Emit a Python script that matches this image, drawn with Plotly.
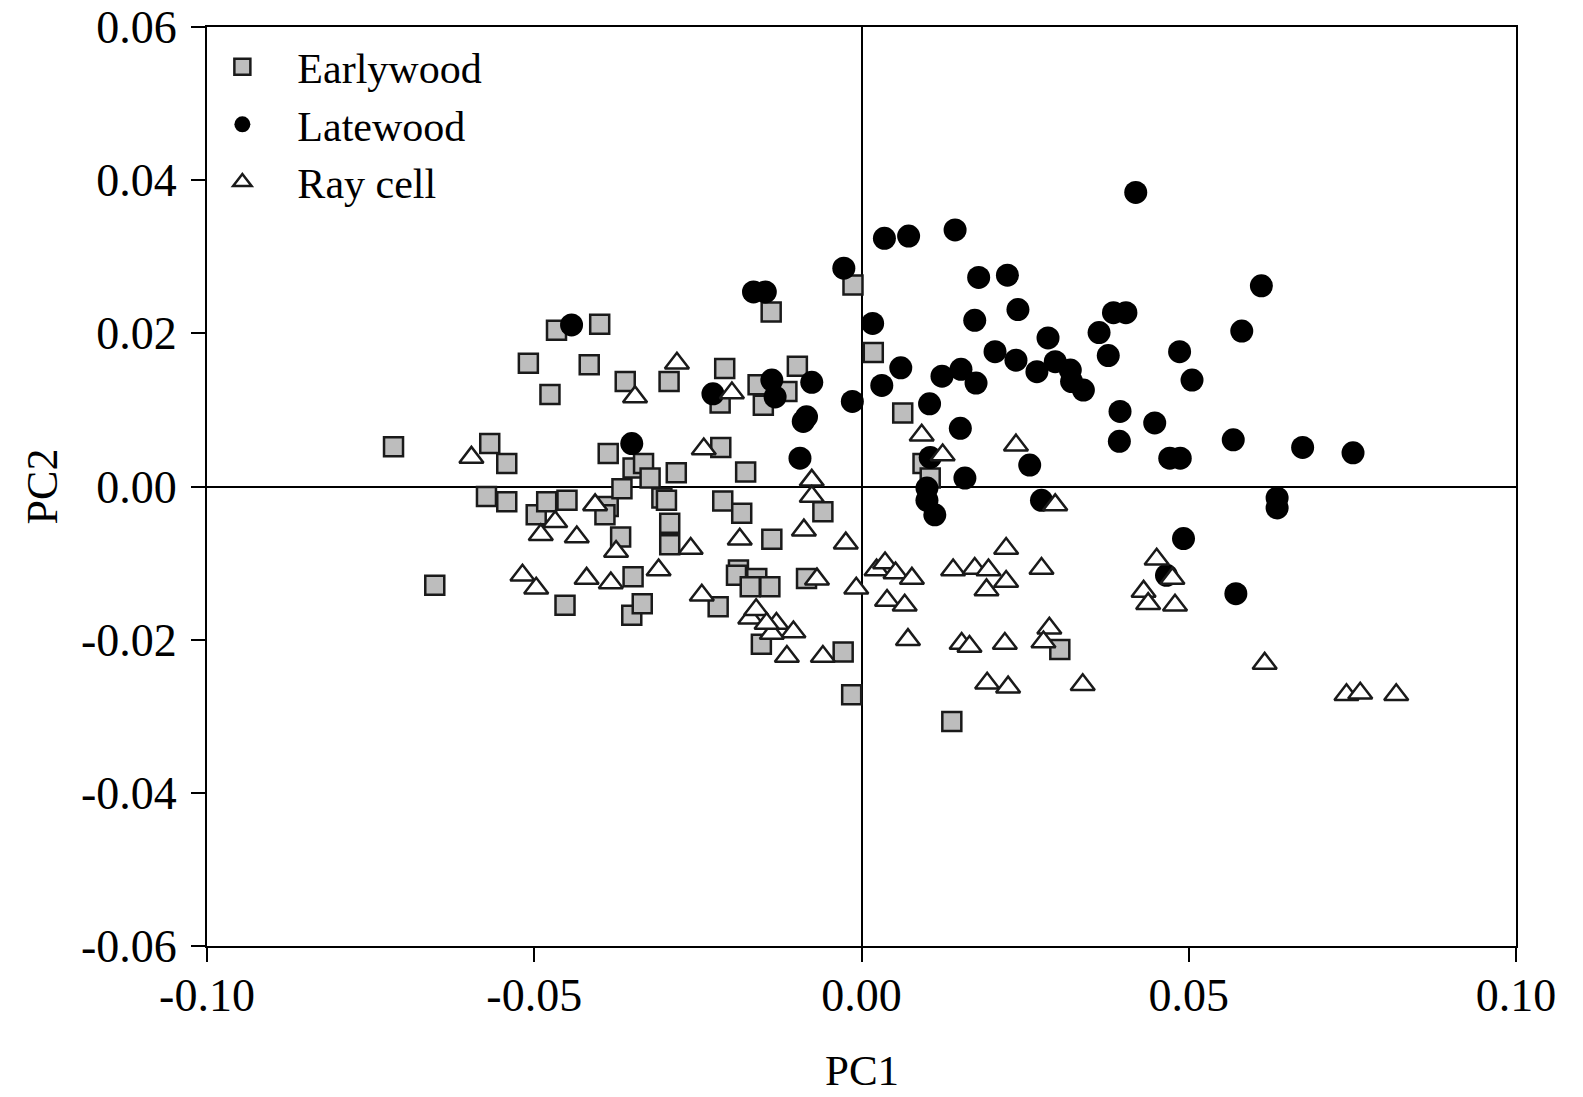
import plotly.graph_objects as go

# ---- data ----
early_x = [-0.0715, -0.0652, -0.0568, -0.0573, -0.0542, -0.0542, -0.0509, -0.0476, -0.0466, -0.0400,
           -0.0416, -0.0497, -0.0481, -0.0450, -0.0453, -0.0387, -0.0392, -0.0387, -0.0361, -0.0366,
           -0.0368, -0.0349, -0.0349, -0.0333, -0.0323, -0.0351, -0.0335, -0.0305, -0.0298, -0.0293,
           -0.0293, -0.0294, -0.0283, -0.0216, -0.0209, -0.0215, -0.0177, -0.0212, -0.0183, -0.0219,
           -0.0188, -0.0191, -0.0160, -0.0140, -0.0170, -0.0137, -0.0153, -0.0158, -0.0114, -0.0150,
           -0.0138, -0.0098, -0.0084, -0.0059, -0.0028, -0.0015, -0.0013, 0.0018, 0.0063, 0.0094,
           0.0105, 0.0303, 0.0138]
early_y = [0.0052, -0.0129, 0.0056, -0.0013, 0.0030, -0.0020, 0.0161, 0.0120, 0.0204, 0.0212,
           0.0159, -0.0037, -0.0020, -0.0018, -0.0155, -0.0026, -0.0037, 0.0043, 0.0137, -0.0003,
           -0.0066, -0.0118, 0.0024, 0.0030, 0.0011, -0.0168, -0.0153, -0.0015, -0.0018, -0.0048,
           -0.0076, 0.0137, 0.0018, 0.0109, 0.0154, 0.0051, 0.0019, -0.0019, -0.0035, -0.0157,
           -0.0109, -0.0116, -0.0120, -0.0131, -0.0131, -0.0069, -0.0206, 0.0133, 0.0124, 0.0106,
           0.0228, 0.0157, -0.0120, -0.0033, -0.0216, -0.0272, 0.0263, 0.0175, 0.0096, 0.0030,
           0.0011, -0.0213, -0.0307]

late_x = [0.0419, 0.0143, 0.0035, 0.0072, -0.0027, 0.0179, 0.0223, -0.0165, -0.0147, 0.0611,
          0.0239, -0.0443, 0.0017, 0.0173, 0.0385, 0.0404, 0.0363, 0.0581, 0.0285, 0.0204,
          0.0377, 0.0486, 0.0236, 0.0296, 0.0268, 0.0319, 0.0321, 0.0339, 0.0060, 0.0123,
          0.0152, 0.0175, 0.0031, -0.0076, -0.0137, -0.0132, -0.0227, -0.0014, 0.0104, -0.0084,
          -0.0089, 0.0505, 0.0395, 0.0448, 0.0151, 0.0394, 0.0568, 0.0674, 0.0751, 0.0471,
          0.0487, -0.0094, -0.0351, 0.0158, 0.0105, 0.0257, 0.0100, 0.0100, 0.0112, 0.0275,
          0.0635, 0.0635, 0.0492, 0.0466, 0.0572]
late_y = [0.0384, 0.0335, 0.0324, 0.0327, 0.0285, 0.0273, 0.0276, 0.0254, 0.0254, 0.0262,
          0.0231, 0.0211, 0.0213, 0.0217, 0.0227, 0.0227, 0.0201, 0.0203, 0.0194, 0.0176,
          0.0171, 0.0176, 0.0165, 0.0163, 0.0150, 0.0152, 0.0137, 0.0126, 0.0155, 0.0144,
          0.0153, 0.0135, 0.0132, 0.0136, 0.0139, 0.0117, 0.0121, 0.0111, 0.0108, 0.0091,
          0.0085, 0.0139, 0.0098, 0.0083, 0.0076, 0.0059, 0.0061, 0.0051, 0.0044, 0.0037,
          0.0037, 0.0037, 0.0056, 0.0011, 0.0038, 0.0028, -0.0002, -0.0018, -0.0037, -0.0018,
          -0.0015, -0.0028, -0.0068, -0.0116, -0.0140]

ray_x = [-0.0596, -0.0282, -0.0346, -0.0198, -0.0241, -0.0076, -0.0076, -0.0407, -0.0468, -0.0490,
         -0.0435, -0.0375, -0.0261, -0.0186, -0.0088, -0.0024, -0.0310, -0.0518, -0.0497, -0.0420,
         -0.0383, -0.0244, -0.0068, -0.0008, -0.0170, -0.0161, -0.0130, -0.0104, -0.0137, -0.0145,
         -0.0114, -0.0059, 0.0023, 0.0036, 0.0052, 0.0077, 0.0039, 0.0066, 0.0071, 0.0092,
         0.0124, 0.0236, 0.0296, 0.0221, 0.0140, 0.0173, 0.0194, 0.0221, 0.0191, 0.0275,
         0.0153, 0.0165, 0.0219, 0.0287, 0.0278, 0.0192, 0.0224, 0.0338, 0.0451, 0.0431,
         0.0438, 0.0475, 0.0479, 0.0616, 0.0741, 0.0762, 0.0817]
ray_y = [0.0038, 0.0161, 0.0117, 0.0122, 0.0049, 0.0008, -0.0013, -0.0024, -0.0046, -0.0063,
         -0.0066, -0.0085, -0.0081, -0.0069, -0.0057, -0.0074, -0.0109, -0.0116, -0.0133, -0.0120,
         -0.0126, -0.0142, -0.0121, -0.0133, -0.0172, -0.0161, -0.0179, -0.0190, -0.0192, -0.0179,
         -0.0222, -0.0222, -0.0109, -0.0100, -0.0113, -0.0120, -0.0149, -0.0155, -0.0200, 0.0067,
         0.0041, 0.0054, -0.0024, -0.0081, -0.0109, -0.0107, -0.0109, -0.0124, -0.0135, -0.0107,
         -0.0205, -0.0209, -0.0205, -0.0185, -0.0203, -0.0257, -0.0262, -0.0259, -0.0095, -0.0137,
         -0.0153, -0.0120, -0.0155, -0.0231, -0.0272, -0.0270, -0.0272]

x_ticks = [-0.10, -0.05, 0.00, 0.05, 0.10]
y_ticks = [-0.06, -0.04, -0.02, 0.00, 0.02, 0.04, 0.06]

FONT = "Liberation Serif"

fig = go.Figure()
fig.add_trace(go.Scatter(
    x=early_x, y=early_y, mode="markers", name="Earlywood",
    marker=dict(symbol="square", size=19, color="#bdbdbd",
                line=dict(color="#1a1a1a", width=2.5))))
fig.add_trace(go.Scatter(
    x=late_x, y=late_y, mode="markers", name="Latewood",
    marker=dict(symbol="circle", size=23, color="#000000",
                line=dict(color="#000000", width=0))))
fig.add_trace(go.Scatter(
    x=ray_x, y=ray_y, mode="markers", name="Ray cell",
    marker=dict(symbol="triangle-up", size=21, color="#ffffff",
                line=dict(color="#1a1a1a", width=2.5))))

axis_common = dict(
    showgrid=False, zeroline=True, zerolinecolor="#000000", zerolinewidth=1.5,
    showline=True, linecolor="#000000", linewidth=2, mirror=True,
    ticks="outside", ticklen=14, tickwidth=1.5, tickcolor="#000000",
    tickfont=dict(family=FONT, size=46, color="#000000"),
    title_font=dict(family=FONT, size=44, color="#000000"),
    automargin=False,
)

fig.update_layout(
    width=1583, height=1097,
    margin=dict(l=207, r=67, t=27, b=151),
    paper_bgcolor="#ffffff", plot_bgcolor="#ffffff",
    showlegend=True,
    legend=dict(
        x=-0.015, y=0.9935, xanchor="left", yanchor="top",
        bgcolor="rgba(0,0,0,0)", borderwidth=0,
        font=dict(family=FONT, size=42, color="#000000"),
        itemwidth=100, tracegroupgap=0,
    ),
    xaxis=dict(range=[-0.10, 0.10], tickvals=x_ticks,
               ticktext=[f"{v:.2f}" for v in x_ticks],
               ticklabelstandoff=-6, **axis_common),
    yaxis=dict(range=[-0.06, 0.06], tickvals=y_ticks,
               ticktext=[f"{v:.2f}" for v in y_ticks],
               ticklabelstandoff=5,
               title=dict(text="PC2", standoff=10), **axis_common),
    annotations=[dict(
        text="PC1", xref="paper", yref="paper", x=0.5, y=-0.1360,
        xanchor="center", yanchor="middle", showarrow=False,
        font=dict(family=FONT, size=43, color="#000000"))],
)

fig.write_html("out.html")
